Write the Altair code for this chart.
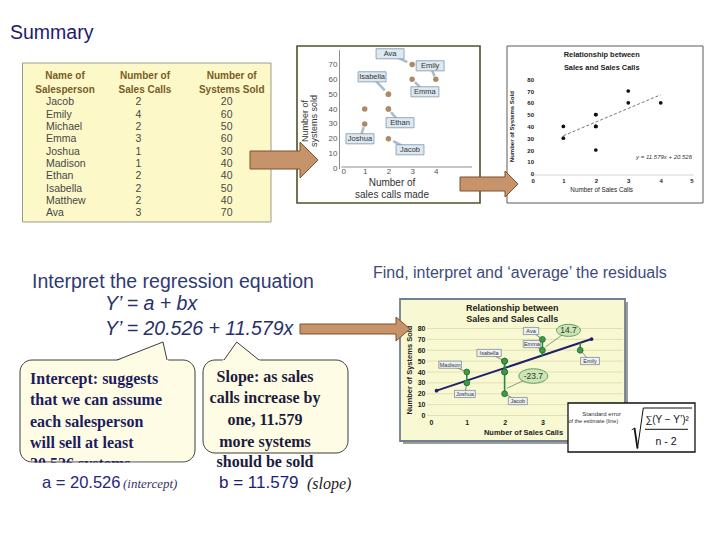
import altair as alt
import pandas as pd

# ---------------- data ----------------
names = ["Jacob", "Emily", "Michael", "Emma", "Joshua", "Madison", "Ethan", "Isabella", "Matthew", "Ava"]
calls = [2, 4, 2, 3, 1, 1, 2, 2, 2, 3]
sold = [20, 60, 50, 60, 30, 40, 40, 50, 40, 70]
intercept = 20.526
slope = 11.579

c1_x_ticks = [0, 1, 2, 3, 4]
c1_y_ticks = [0, 10, 20, 30, 40, 50, 60, 70]
c2_x_ticks = [0, 1, 2, 3, 4, 5]
c2_y_ticks = [0, 10, 20, 30, 40, 50, 60, 70, 80]
c3_x_ticks = [0, 1, 2, 3]          # the "4" sits under the formula box
c3_y_ticks = [0, 10, 20, 30, 40, 50, 60, 70, 80]

# name tags (anchor given in each chart's data units)
c1_tags = ["Ava", "Emily", "Isabella", "Emma", "Ethan", "Joshua", "Jacob"]
c1_tag_x = [2.07, 3.76, 1.31, 3.54, 2.49, 0.80, 2.91]
c1_tag_y = [77.2, 69.1, 61.7, 51.6, 30.8, 20.0, 12.6]
c3_tags = ["Ava", "Emma", "Isabella", "Madison", "Joshua", "Jacob", "Emily"]
c3_tag_x = [2.70, 2.72, 1.59, 0.56, 0.95, 2.35, 4.26]
c3_tag_y = [77.7, 65.7, 57.5, 46.7, 19.8, 13.3, 50.1]
bubble_names = ["Ava", "Jacob"]
bubble_x = [3.69, 2.76]
bubble_y = [78.3, 36.3]
bubble_tail_x = [3.08, 2.06]
bubble_tail_y = [63.0, 25.0]

headers = [["Name of", "Salesperson"], ["Number of", "Sales Calls"], ["Number of", "Systems Sold"]]

# ---------------- tables ----------------
df = pd.DataFrame({"name": names, "calls": calls, "sold": sold})
t1 = pd.DataFrame({"name": c1_tags, "lx": c1_tag_x, "ly": c1_tag_y}).merge(df, on="name")
t3 = pd.DataFrame({"name": c3_tags, "lx": c3_tag_x, "ly": c3_tag_y}).merge(df, on="name")
bub = pd.DataFrame({"name": bubble_names, "bx": bubble_x, "by": bubble_y,
                    "tx": bubble_tail_x, "ty": bubble_tail_y}).merge(df, on="name")
bub["label"] = [f"{s - (intercept + slope * c):.1f}" for s, c in zip(bub.sold, bub.calls)]

W, H = 700, 520
one = pd.DataFrame({"k": [0]})
SANS = "Liberation Sans, Arial, sans-serif"
SERIF = "Liberation Serif, Times New Roman, serif"


def P(v):
    return v - 8


def text(s, x, y, size, color="#000", font=SANS, weight="normal", style="normal", align="left", angle=0):
    kw = dict(text=s, fontSize=size, color=color, font=font, fontWeight=weight,
              fontStyle=style, align=align, baseline="middle")
    if angle:
        kw["angle"] = angle
    return alt.Chart(one).mark_text(**kw).encode(x=alt.value(P(x)), y=alt.value(P(y)))


def rect(x1, y1, x2, y2, fill="transparent", stroke=None, sw=1.0, r=0):
    kw = dict(fill=fill)
    if stroke:
        kw.update(stroke=stroke, strokeWidth=sw)
    if r:
        kw["cornerRadius"] = r
    return alt.Chart(one).mark_rect(**kw).encode(
        x=alt.value(P(x1)), x2=alt.value(P(x2)), y=alt.value(P(y1)), y2=alt.value(P(y2)))


def seg(x1, y1, x2, y2, color, sw=1.0):
    return alt.Chart(one).mark_rule(color=color, strokeWidth=sw).encode(
        x=alt.value(P(x1)), x2=alt.value(P(x2)), y=alt.value(P(y1)), y2=alt.value(P(y2)))


def poly(pts, fill, stroke=None, sw=1.0):
    xs = [p[0] for p in pts]
    ys = [p[1] for p in pts]
    cx, cy = (min(xs) + max(xs)) / 2, (min(ys) + max(ys)) / 2
    half = max(max(xs) - min(xs), max(ys) - min(ys)) / 2
    path = "M" + " L".join(f"{(x - cx) / half:.4f},{(y - cy) / half:.4f}" for x, y in pts) + " Z"
    kw = dict(shape=path, filled=True, fill=fill, size=(2 * half) ** 2, opacity=1)
    if stroke:
        kw.update(stroke=stroke, strokeWidth=sw)
    else:
        kw["strokeWidth"] = 0
    return alt.Chart(one).mark_point(**kw).encode(x=alt.value(P(cx)), y=alt.value(P(cy)))


# ---------------- scales (placed in slide pixels) ----------------
S1X = alt.Scale(domain=[0, 5.5], range=[P(341), P(471.4)], nice=False, zero=False)
S1Y = alt.Scale(domain=[0, 80], range=[P(168.5), P(49.6)], nice=False, zero=False)
S2X = alt.Scale(domain=[0, 5], range=[P(530.9), P(693.2)], nice=False, zero=False)
S2Y = alt.Scale(domain=[0, 80], range=[P(173.6), P(79.2)], nice=False, zero=False)
S3X = alt.Scale(domain=[0, 5], range=[P(429), P(618)], nice=False, zero=False)
S3Y = alt.Scale(domain=[0, 80], range=[P(415.5), P(328.5)], nice=False, zero=False)
TY = alt.Scale(type="point", domain=names, range=[P(102.3), P(213.3)], padding=0)

A1X = alt.Axis(orient="bottom", offset=P(166.5) - H, values=c1_x_ticks, ticks=False, grid=False,
               domainColor="#8c8c8c", labelColor="#555", labelFontSize=8, labelFont=SANS,
               labelPadding=0.5, title=None, zindex=1)
A1Y = alt.Axis(orient="left", offset=-P(339), values=c1_y_ticks, ticks=False, grid=False,
               domainColor="#8c8c8c", labelColor="#555", labelFontSize=8, labelFont=SANS,
               labelPadding=2, title=None, zindex=1)
A2X = alt.Axis(orient="bottom", offset=P(174.5) - H, values=c2_x_ticks, ticks=False, grid=False,
               domainColor="#d4d4d4", labelColor="#222", labelFontSize=6, labelFontWeight="bold",
               labelFont=SANS, labelPadding=3, title=None, zindex=1)
A2Y = alt.Axis(orient="left", offset=-P(535), values=c2_y_ticks, ticks=False, grid=False, domain=False,
               labelColor="#222", labelFontSize=6, labelFontWeight="bold", labelFont=SANS,
               labelPadding=1.5, title=None, zindex=1)
A3X = alt.Axis(orient="bottom", offset=P(415.5) - H, values=c3_x_ticks, ticks=False, grid=False,
               domain=False, labelColor="#222", labelFontSize=7, labelFontWeight="bold",
               labelFont=SANS, labelPadding=3, title=None, zindex=1)
A3Y = alt.Axis(orient="left", offset=-P(427), values=c3_y_ticks, ticks=False, grid=False, domain=False,
               labelColor="#222", labelFontSize=7, labelFontWeight="bold", labelFont=SANS,
               labelPadding=2, title=None, zindex=1)


def X1(f, axis=None):
    return alt.X(f, type="quantitative", scale=S1X, axis=axis)


def Y1(f, axis=None):
    return alt.Y(f, type="quantitative", scale=S1Y, axis=axis)


def X2(f, axis=None):
    return alt.X(f, type="quantitative", scale=S2X, axis=axis)


def Y2(f, axis=None):
    return alt.Y(f, type="quantitative", scale=S2Y, axis=axis)


def X3(f, axis=None):
    return alt.X(f, type="quantitative", scale=S3X, axis=axis)


def Y3(f, axis=None):
    return alt.Y(f, type="quantitative", scale=S3Y, axis=axis)


layers = []

# ---------------- title ----------------
layers.append(text("Summary", 10, 33, 19.5, color="#1d1a6c"))

# ---------------- data table ----------------
layers.append(rect(22.5, 63, 271, 222, fill="#fdf8c8", stroke="#9b9b8c", sw=1))
for (l1, l2), cx in zip(headers, [65, 145, 231.7]):
    layers.append(text(l1, cx, 76, 10, color="#7a5c26", weight="bold", align="center"))
    layers.append(text(l2, cx, 89.5, 10, color="#7a5c26", weight="bold", align="center"))
for field, typ, xpos, align in [("name", "N", 46, "left"), ("calls", "Q", 138.3, "center"),
                                 ("sold", "Q", 226.7, "center")]:
    layers.append(
        alt.Chart(df).mark_text(align=align, baseline="middle", fontSize=10.5, font=SANS, color="#474747")
        .encode(y=alt.Y("name:N", scale=TY, axis=None, sort=None), x=alt.value(P(xpos)),
                text=alt.Text(f"{field}:{typ}"))
    )

# ---------------- chart 1 : labelled scatter ----------------
layers.append(rect(297, 46, 480, 203, fill="white", stroke="#51512a", sw=1.6))
layers.append(
    alt.Chart(t1).transform_calculate(
        ex="datum.lx + 0.78*(datum.calls - datum.lx)", ey="datum.ly + 0.78*(datum.sold - datum.ly)")
    .mark_rule(color="#aabdcc", strokeWidth=2.6)
    .encode(x=X1("lx"), y=Y1("ly"), x2="ex:Q", y2="ey:Q")
)
layers.append(
    alt.Chart(t1).transform_calculate(
        x1="datum.lx - 0.59", x2="datum.lx + 0.59", y1="datum.ly - 3.4", y2="datum.ly + 3.4")
    .mark_rect(fill="#dde8f1", stroke="#7f95a9", strokeWidth=0.8)
    .encode(x=X1("x1"), x2="x2:Q", y=Y1("y1"), y2="y2:Q")
)
layers.append(
    alt.Chart(t1).mark_text(fontSize=7.5, color="#333", font=SANS, baseline="middle")
    .encode(x=X1("lx"), y=Y1("ly"), text="name:N")
)
layers.append(
    alt.Chart(df).mark_circle(size=30, color="#ad8b66", opacity=1)
    .encode(x=X1("calls", A1X), y=Y1("sold", A1Y))
)
layers.append(text("Number of", 305, 121, 9, color="#333", align="center", angle=270))
layers.append(text("systems sold", 314, 121, 9, color="#333", align="center", angle=270))
layers.append(text("Number of", 392, 183, 10, color="#333", align="center"))
layers.append(text("sales calls made", 392, 194.5, 10, color="#333", align="center"))

# ---------------- chart 2 : Excel style scatter with trend line ----------------
layers.append(rect(507, 46, 703, 203, fill="white", stroke="#5a5a5a", sw=1))
layers.append(text("Relationship between", 601.7, 55, 7.4, color="#222", weight="bold", align="center"))
layers.append(text("Sales and Sales Calls", 601.7, 68.3, 7.4, color="#222", weight="bold", align="center"))
layers.append(
    alt.Chart(df).transform_regression("calls", "sold")
    .mark_line(color="#777", strokeWidth=1, strokeDash=[3, 2])
    .encode(x=X2("calls"), y=Y2("sold"))
)
layers.append(
    alt.Chart(df).mark_circle(size=14, color="#111", opacity=1)
    .encode(x=X2("calls", A2X), y=Y2("sold", A2Y))
)
layers.append(text("y = 11.579x + 20.526", 692, 156.7, 6, color="#333", style="italic", align="right"))
layers.append(text("Number of Sales Calls", 601.7, 190, 6.3, color="#222", align="center"))
layers.append(text("Number of Systems Sold", 512.3, 126.7, 6, color="#222",
                   weight="bold", align="center", angle=270))

# ---------------- arrows (top row) ----------------
ARW_FILL, ARW_LINE = "#c7936a", "#7d532e"
layers.append(poly([(250, 151), (300, 151), (300, 142), (318, 160), (300, 178), (300, 169), (250, 169)],
                   ARW_FILL, ARW_LINE))
layers.append(poly([(460, 177), (505, 177), (505, 171), (518, 184), (505, 197), (505, 191), (460, 191)],
                   ARW_FILL, ARW_LINE))

# ---------------- middle texts ----------------
layers.append(text("Interpret the regression equation", 32, 282, 19.5, color="#2f3a73"))
layers.append(text("Y’ = a + bx", 105, 304, 19.5, color="#27306b", style="italic"))
layers.append(text("Y’ = 20.526 + 11.579x", 105, 329, 19.5, color="#27306b", style="italic"))
layers.append(text("Find, interpret and ‘average’ the residuals", 373, 273, 16, color="#3d4b7d"))

# ---------------- chart 3 : residuals ----------------
layers.append(rect(403, 302, 628, 444, fill="#9c9c9c"))
layers.append(rect(400, 299, 625, 441, fill="#f8f8d3", stroke="#6f8191", sw=1.8))
layers.append(
    alt.Chart(pd.DataFrame({"v": c3_y_ticks})).mark_rule(color="#dcdca6", strokeWidth=0.8)
    .encode(y=Y3("v"), x=alt.value(P(427)), x2=alt.value(P(623)))
)
layers.append(text("Relationship between", 512.3, 308.3, 9, color="#222", weight="bold", align="center"))
layers.append(text("Sales and Sales Calls", 512.3, 319.3, 9, color="#222", weight="bold", align="center"))
layers.append(
    alt.Chart(df).transform_regression("calls", "sold", extent=[0.2, 4.3])
    .mark_line(color="#1f1f6b", strokeWidth=2)
    .encode(x=X3("calls"), y=Y3("sold"))
)
layers.append(
    alt.Chart(df).transform_regression("calls", "sold", extent=[0.2, 4.3])
    .mark_circle(color="#1f1f6b", size=14, opacity=1)
    .encode(x=X3("calls"), y=Y3("sold"))
)
layers.append(
    alt.Chart(df).transform_calculate(pred=f"{intercept} + {slope} * datum.calls")
    .mark_rule(color="#2b8a3b", strokeWidth=1.6)
    .encode(x=X3("calls"), y=Y3("sold"), y2="pred:Q")
)
layers.append(
    alt.Chart(t3).transform_calculate(
        ex="datum.lx + 0.85*(datum.calls - datum.lx)", ey="datum.ly + 0.85*(datum.sold - datum.ly)")
    .mark_rule(color="#555", strokeWidth=0.7)
    .encode(x=X3("lx"), y=Y3("ly"), x2="ex:Q", y2="ey:Q")
)
layers.append(
    alt.Chart(t3).transform_calculate(
        x1="datum.lx - (0.9*length(datum.name) + 5)/37.8",
        x2="datum.lx + (0.9*length(datum.name) + 5)/37.8",
        y1="datum.ly - 3.3", y2="datum.ly + 3.3")
    .mark_rect(fill="#eef1f3", stroke="#6f7f8c", strokeWidth=0.7)
    .encode(x=X3("x1"), x2="x2:Q", y=Y3("y1"), y2="y2:Q")
)
layers.append(
    alt.Chart(t3).mark_text(fontSize=5.5, color="#333", font=SANS, baseline="middle")
    .encode(x=X3("lx"), y=Y3("ly"), text="name:N")
)
layers.append(
    alt.Chart(df).mark_circle(size=34, color="#3d9a4a", stroke="#1f6a2c", strokeWidth=0.8, opacity=1)
    .encode(x=X3("calls", A3X), y=Y3("sold", A3Y))
)
layers.append(
    alt.Chart(bub).mark_rule(color="#6a8a5a", strokeWidth=0.8)
    .encode(x=X3("bx"), y=Y3("by"), x2="tx:Q", y2="ty:Q")
)
ELLIPSE = "M-1,0 A1,0.5 0 1,1 1,0 A1,0.5 0 1,1 -1,0 Z"
layers.append(
    alt.Chart(bub).transform_calculate(sz="pow(4 + 5*length(datum.label), 2)")
    .mark_point(shape=ELLIPSE, filled=True, fill="#c9e6b4", stroke="#5f8f55", strokeWidth=0.9, opacity=1)
    .encode(x=X3("bx"), y=Y3("by"), size=alt.Size("sz:Q", scale=None))
)
layers.append(
    alt.Chart(bub).mark_text(fontSize=8.5, color="#333", font=SANS, baseline="middle")
    .encode(x=X3("bx"), y=Y3("by"), text="label:N")
)
layers.append(text("Number of Systems Sold", 410, 370, 7.5, color="#222", weight="bold",
                   align="center", angle=270))
layers.append(text("Number of Sales Calls", 523.5, 433, 7.5, color="#222", weight="bold", align="center"))

# arrow into chart 3
layers.append(poly([(300, 324), (396, 324), (396, 317), (410, 329), (396, 341), (396, 334), (300, 334)],
                   ARW_FILL, ARW_LINE))

# ---------------- standard error formula ----------------
layers.append(rect(568, 403, 695, 452, fill="white", stroke="#111", sw=1.3))
layers.append(text("Standard error", 601.7, 414.3, 6, color="#333", align="center"))
layers.append(text("of the estimate (line)", 593.3, 421, 5.5, color="#333", align="center"))
layers.append(seg(631.7, 430, 634.5, 428, "#111", 0.9))
layers.append(seg(634.5, 428, 637.5, 448.5, "#111", 1.8))
layers.append(seg(637.5, 448.5, 643.3, 408, "#111", 1))
layers.append(seg(643.3, 408, 692, 408, "#111", 1))
layers.append(text("∑(Y − Y’)²", 667, 419.5, 10, color="#111", align="center"))
layers.append(seg(645, 429.3, 688, 429.3, "#111", 1))
layers.append(text("n - 2", 666, 441.7, 10.5, color="#111", align="center"))

# ---------------- callouts ----------------
CALL_FILL, CALL_LINE = "#fffce6", "#3c3c3c"
layers.append(rect(20, 360, 195, 462, fill=CALL_FILL, stroke=CALL_LINE, sw=1, r=12))
layers.append(poly([(115, 361.6), (163, 342), (168.5, 361.6)], CALL_FILL))
layers.append(seg(117, 360, 163, 342, CALL_LINE, 1))
layers.append(seg(163, 342, 167, 360, CALL_LINE, 1))
layers.append(rect(203, 360, 348, 453, fill=CALL_FILL, stroke=CALL_LINE, sw=1, r=12))
layers.append(poly([(222, 361.6), (236.7, 342), (261, 361.6)], CALL_FILL))
layers.append(seg(224, 360, 236.7, 342, CALL_LINE, 1))
layers.append(seg(236.7, 342, 259, 360, CALL_LINE, 1))

for s, yy in zip(["Intercept: suggests", "that we can assume", "each salesperson",
                  "will sell at least", "20.526 systems"], [379.3, 400, 421.7, 443.3, 464]):
    layers.append(text(s, 30, yy, 16, color="#1c1c5e", font=SERIF, weight="bold"))
layers.append(rect(19, 462.7, 197, 474, fill="white"))
for s, yy in zip(["Slope: as sales", "calls increase by", "one, 11.579",
                  "more systems", "should be sold"], [376.7, 398.3, 420, 441.7, 461.7]):
    layers.append(text(s, 265, yy, 16, color="#1c1c3c", font=SERIF, weight="bold", align="center"))

layers.append(text("a = 20.526", 42, 483, 16.5, color="#262680"))
layers.append(text("(intercept)", 123, 484, 13, color="#333366", font=SERIF, style="italic"))
layers.append(text("b = 11.579", 219, 483, 17, color="#1c1c7c"))
layers.append(text("(slope)", 307, 484, 16, color="#222", font=SERIF, style="italic"))

chart = (
    alt.layer(*layers)
    .resolve_scale(x="independent", y="independent")
    .properties(width=W, height=H, padding=0, autosize=alt.AutoSizeParams(type="none"),
                background="white")
    .configure_view(stroke=None)
)

chart.save("out.html", embed_options={"renderer": "svg", "actions": False})
